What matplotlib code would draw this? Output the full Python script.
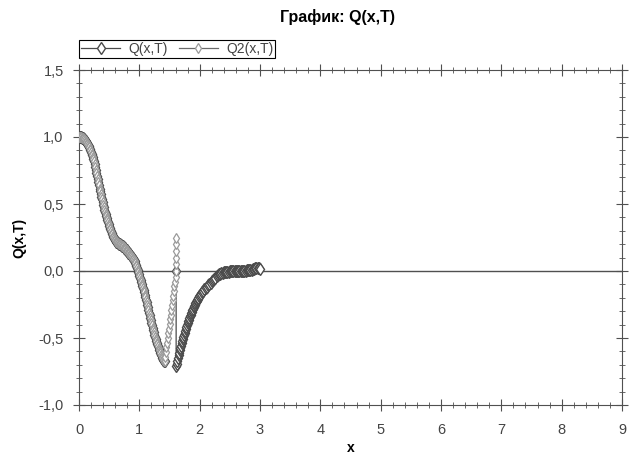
import numpy as np
import matplotlib.pyplot as plt
from matplotlib.ticker import MultipleLocator, FuncFormatter

plt.rcParams['font.family'] = ['Liberation Sans', 'DejaVu Sans']

# общий участок Q и Q2 (x = 0 .. 1.42, шаг 0.01)
x_common = [round(0.01 * i, 2) for i in range(143)]
q_common = [1.000, 1.000, 1.000, 0.999, 0.998, 0.996, 0.994, 0.991, 0.988, 0.983,
            0.978, 0.972, 0.965, 0.958, 0.950, 0.941, 0.932, 0.922, 0.912, 0.900,
            0.888, 0.875, 0.862, 0.848, 0.834, 0.818, 0.800, 0.778, 0.755, 0.732,
            0.710, 0.688, 0.665, 0.640, 0.615, 0.595, 0.575, 0.555, 0.535, 0.515,
            0.495, 0.475, 0.455, 0.440, 0.425, 0.410, 0.395, 0.380, 0.365, 0.350,
            0.335, 0.322, 0.310, 0.297, 0.285, 0.273, 0.262, 0.253, 0.245, 0.237,
            0.230, 0.225, 0.220, 0.216, 0.212, 0.208, 0.205, 0.201, 0.198, 0.195,
            0.192, 0.189, 0.186, 0.183, 0.179, 0.175, 0.170, 0.165, 0.160, 0.154,
            0.148, 0.142, 0.137, 0.131, 0.126, 0.120, 0.115, 0.109, 0.103, 0.097,
            0.090, 0.081, 0.072, 0.060, 0.048, 0.034, 0.020, 0.007, -0.005, -0.020,
            -0.035, -0.050, -0.065, -0.080, -0.095, -0.110, -0.125, -0.142, -0.160, -0.178,
            -0.196, -0.215, -0.234, -0.253, -0.272, -0.291, -0.310, -0.329, -0.348, -0.366,
            -0.385, -0.403, -0.422, -0.440, -0.457, -0.474, -0.490, -0.505, -0.520, -0.534,
            -0.548, -0.562, -0.575, -0.588, -0.600, -0.613, -0.625, -0.637, -0.648, -0.658,
            -0.666, -0.671, -0.672]

# Q2: правая ветвь до разрыва
x_q2_tail = [1.43, 1.44, 1.45, 1.46, 1.47, 1.48, 1.49, 1.50, 1.51, 1.52,
             1.53, 1.54, 1.55, 1.56, 1.57, 1.58, 1.59, 1.60,
             1.605, 1.607, 1.608, 1.609, 1.610, 1.610]
q2_tail = [-0.640, -0.605, -0.570, -0.535, -0.500, -0.465, -0.430, -0.395, -0.360, -0.325,
           -0.290, -0.255, -0.220, -0.185, -0.150, -0.115, -0.080, -0.045,
           0.000, 0.050, 0.100, 0.150, 0.200, 0.250]

# Q: после разрыва
x_q_tail = [1.61, 1.61,
            1.62, 1.63, 1.64, 1.65, 1.66, 1.67, 1.68, 1.69, 1.70, 1.71,
            1.72, 1.73, 1.74, 1.75, 1.76, 1.77, 1.78, 1.79, 1.80, 1.81,
            1.82, 1.83, 1.84, 1.85, 1.86, 1.87, 1.88, 1.89, 1.90, 1.91,
            1.92, 1.93, 1.94, 1.95, 1.96, 1.97, 1.98, 1.99, 2.00,
            2.02, 2.04, 2.06, 2.08, 2.10, 2.12, 2.14, 2.16, 2.18, 2.20,
            2.22, 2.24, 2.26, 2.28, 2.30, 2.32, 2.34, 2.36, 2.38, 2.40,
            2.42, 2.44, 2.46, 2.48, 2.50, 2.52, 2.54, 2.56, 2.58, 2.60,
            2.62, 2.64, 2.66, 2.68, 2.70, 2.72, 2.74, 2.76, 2.78, 2.80,
            2.82, 2.84, 2.86, 2.88, 2.90, 2.92, 2.94, 2.96, 2.98, 3.00]
q_tail = [0.000, -0.710,
          -0.695, -0.672, -0.650, -0.630, -0.610, -0.592, -0.575, -0.557, -0.540, -0.522,
          -0.505, -0.490, -0.475, -0.460, -0.445, -0.430, -0.415, -0.401, -0.388, -0.375,
          -0.362, -0.350, -0.338, -0.326, -0.315, -0.304, -0.293, -0.282, -0.272, -0.262,
          -0.252, -0.242, -0.233, -0.224, -0.215, -0.206, -0.198, -0.190, -0.182,
          -0.171, -0.160, -0.149, -0.138, -0.128, -0.118, -0.108, -0.098, -0.088, -0.078,
          -0.068, -0.058, -0.049, -0.040, -0.033, -0.026, -0.021, -0.016, -0.013, -0.010,
          -0.008, -0.006, -0.005, -0.004, -0.003, -0.002, -0.002, -0.001, -0.001, 0.000,
          0.000, 0.000, 0.000, 0.001, 0.001, 0.002, 0.002, 0.003, 0.004, 0.005,
          0.006, 0.008, 0.010, 0.013, 0.016, 0.020, 0.023, 0.024, 0.020, 0.015]

x_q = x_common + x_q_tail
q = q_common + q_tail
x_q2 = x_common + x_q2_tail
q2 = q_common + q2_tail

fig = plt.figure(figsize=(6.31, 4.58), dpi=100)
ax = fig.add_axes([79 / 631, 1 - 405 / 458, 543 / 631, 335 / 458])

ax.axhline(0, color='#505050', lw=1, zorder=1)
ax.plot(x_q, q, color='#4a4a4a', lw=0.9, marker='d', markersize=6.2,
        markerfacecolor='white', markeredgecolor='#4a4a4a', markeredgewidth=1.0,
        label='Q(x,T)', zorder=2)
ax.plot(x_q2, q2, color='#6a6a6a', lw=0.9, marker='d', markersize=5.4,
        markerfacecolor='white', markeredgecolor='#9a9a9a', markeredgewidth=0.9,
        label='Q2(x,T)', zorder=3)

ax.set_xlim(0, 9)
ax.set_ylim(-1.0, 1.5)
ax.xaxis.set_major_locator(MultipleLocator(1))
ax.xaxis.set_minor_locator(MultipleLocator(0.2))
ax.yaxis.set_major_locator(MultipleLocator(0.5))
ax.yaxis.set_minor_locator(MultipleLocator(0.1))
ax.yaxis.set_major_formatter(FuncFormatter(lambda v, p: f'{v:.1f}'.replace('.', ',')))

for s in ax.spines.values():
    s.set_color('#505050')
ax.tick_params(which='both', direction='inout', colors='#505050',
               labelcolor='#444444', labelsize=10.5, top=True, right=True)
ax.tick_params(which='major', length=8)
ax.tick_params(which='minor', length=4)
ax.tick_params(axis='x', which='major', pad=9)
ax.tick_params(axis='y', which='major', pad=7)

ax.set_xlabel('x', fontsize=10, fontweight='bold', labelpad=3)
ax.set_ylabel('Q(x,T)', fontsize=10, fontweight='bold', labelpad=9)
fig.text(337 / 631, 1 - 17 / 458, 'График: Q(x,T)', ha='center', va='center',
         fontsize=11.5, fontweight='bold')

leg = ax.legend(loc='lower left', bbox_to_anchor=(0, 1.036), borderaxespad=0,
                ncol=2, fontsize=10, frameon=True, fancybox=False,
                edgecolor='black', framealpha=1, handlelength=2.8,
                columnspacing=0.8, borderpad=0.15, handletextpad=0.6)
leg.get_frame().set_linewidth(0.8)
for t in leg.get_texts():
    t.set_color('#444444')

plt.savefig('out.png', dpi=100)
